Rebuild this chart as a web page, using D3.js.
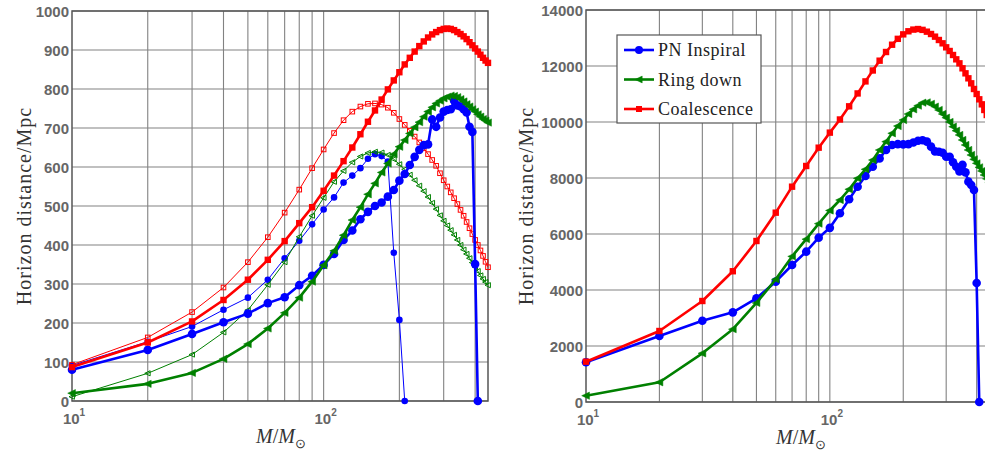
<!DOCTYPE html>
<html>
<head>
<meta charset="utf-8">
<script src="https://cdn.jsdelivr.net/npm/d3@7"></script>
<style>
  body { margin: 0; background: #fff; }
  svg { display: block; }
</style>
</head>
<body>
<div id="chart"></div>
<script>
// masses in solar units, 10 .. 450
const mass = [10, 20, 30, 40, 50, 60, 70, 80, 90, 100,
  110, 120, 130, 140, 150, 160, 170, 180, 190, 200,
  210, 220, 230, 240, 250, 260, 270, 280, 290, 300,
  310, 320, 330, 340, 350, 360, 370, 380, 390, 400,
  410, 420, 430, 440, 450];

// left panel, thin lines (first set)
const leftPNThin = [91, 152, 191, 234, 265, 311, 366, 411, 453, 491,
  522, 560, 578, 597, 621, 633, 628, 614, 380, 208, 0];
const leftRingThin = [11, 71, 119, 176, 233, 298, 356, 421, 475, 521,
  562, 590, 612, 627, 636, 639, 637, 631, 620, 607,
  594, 580, 566, 552, 538, 523, 508, 492, 476, 462,
  450, 438, 426, 413, 400, 388, 377, 366, 355, 344,
  333, 322, 313, 305, 297];
const leftCoalThin = [93, 163, 228, 291, 356, 420, 483, 542, 597, 645,
  687, 720, 742, 755, 762, 763, 760, 752, 739, 723,
  708, 693, 678, 663, 648, 633, 618, 603, 584, 566,
  550, 535, 520, 505, 490, 475, 459, 443, 428, 413,
  400, 386, 372, 357, 343];

// left panel, thick lines (second set)
const leftPNThick = [80, 131, 172, 202, 224, 251, 266, 297, 321, 349,
  377, 413, 437, 466, 485, 500, 509, 524, 541, 565,
  582, 605, 626, 644, 656, 658, 722, 703, 727, 742,
  746, 748, 770, 758, 755, 748, 740, 703, 690, 351, 0];
const leftRingThick = [20, 44, 72, 108, 146, 186, 226, 265, 306, 348,
  385, 425, 464, 497, 530, 558, 586, 609, 633, 652,
  669, 686, 702, 715, 729, 742, 753, 763, 770, 776,
  780, 783, 782, 779, 774, 768, 761, 755, 748, 742,
  735, 729, 723, 719, 714];
const leftCoalThick = [87, 150, 204, 259, 311, 362, 410, 456, 497, 539,
  578, 615, 650, 684, 716, 745, 773, 799, 822, 843,
  863, 880, 896, 910, 922, 932, 940, 946, 951, 954,
  955, 954, 951, 946, 941, 935, 928, 920, 912, 904,
  896, 888, 880, 873, 867];

// right panel
const rightPN = [1420, 2357, 2900, 3202, 3702, 4298, 4893, 5369, 5869, 6220,
  6740, 7240, 7690, 8070, 8400, 8700, 9000, 9180, 9210, 9200,
  9210, 9270, 9330, 9350, 9300, 9120, 8950, 8940, 8900, 8760,
  8760, 8560, 8400, 8230, 8470, 8200, 7870, 7750, 7570, 4250, 0];
const rightRing = [225, 704, 1738, 2600, 3540, 4380, 5200, 5815, 6370, 6840,
  7214, 7595, 7988, 8310, 8643, 9000, 9298, 9595, 9857, 10071,
  10286, 10452, 10583, 10690, 10700, 10650, 10550, 10429, 10286, 10155,
  10000, 9833, 9690, 9536, 9357, 9179, 9000, 8821, 8667, 8524,
  8381, 8250, 8107, 7970, 7840];
const rightCoal = [1440, 2536, 3607, 4670, 5750, 6762, 7690, 8429, 9083, 9620,
  10090, 10560, 11020, 11450, 11840, 12190, 12500, 12760, 12970, 13130,
  13240, 13300, 13320, 13290, 13226, 13143, 13048, 12929, 12810, 12667,
  12536, 12393, 12238, 12095, 11917, 11738, 11560, 11381, 11179, 11000,
  10810, 10631, 10429, 10250, 10070];

const leftYTicks = [0, 100, 200, 300, 400, 500, 600, 700, 800, 900, 1000];
const rightYTicks = [0, 2000, 4000, 6000, 8000, 10000, 12000, 14000];
const xGrid = [20, 30, 40, 50, 60, 70, 80, 90, 100, 200, 300, 400, 500];
const xLabelTicks = [{ v: 10, exp: "1" }, { v: 100, exp: "2" }];
const legendNames = ["PN Inspiral", "Ring down", "Coalescence"];

const BLUE = "#0000ff", GREEN = "#008000", RED = "#ff0000";
const GRID = "#828282", BOX = "#555555", TICK = "#666666";

const svg = d3.select("#chart").append("svg")
  .attr("width", 985).attr("height", 453)
  .style("background", "#fff");

function trianglePath(s) {
  // left pointing triangle
  return `M${-s},0L${s * 0.8},${-s * 0.85}L${s * 0.8},${s * 0.85}Z`;
}

function drawMarkers(g, pts, marker, color, size, thin) {
  if (marker === "circle") {
    g.selectAll(null).data(pts).join("circle")
      .attr("cx", (d) => d[0]).attr("cy", (d) => d[1])
      .attr("r", size).attr("fill", color);
  } else if (marker === "square") {
    g.selectAll(null).data(pts).join("rect")
      .attr("x", (d) => d[0] - size).attr("y", (d) => d[1] - size)
      .attr("width", size * 2).attr("height", size * 2)
      .attr("fill", thin ? "none" : color)
      .attr("stroke", color).attr("stroke-width", thin ? 1 : 0);
  } else {
    g.selectAll(null).data(pts).join("path")
      .attr("transform", (d) => `translate(${d[0]},${d[1]})`)
      .attr("d", trianglePath(size))
      .attr("fill", thin ? "none" : color)
      .attr("stroke", color).attr("stroke-width", thin ? 1 : 0.5);
  }
}

function drawPanel(p) {
  const x = d3.scaleLog().domain(p.xDomain).range([p.left, p.right]);
  const y = d3.scaleLinear().domain(p.yDomain).range([p.bottom, p.top]);
  const g = svg.append("g");

  // grid
  g.append("g").selectAll("line").data(p.yTicks).join("line")
    .attr("x1", p.left).attr("x2", p.right)
    .attr("y1", (d) => y(d)).attr("y2", (d) => y(d))
    .attr("stroke", GRID).attr("stroke-width", 1.1);
  g.append("g").selectAll("line").data(xGrid.filter((d) => d < p.xDomain[1])).join("line")
    .attr("x1", (d) => x(d)).attr("x2", (d) => x(d))
    .attr("y1", p.top).attr("y2", p.bottom)
    .attr("stroke", GRID).attr("stroke-width", 1.1);

  // box
  g.append("rect")
    .attr("x", p.left).attr("y", p.top)
    .attr("width", p.right - p.left).attr("height", p.bottom - p.top)
    .attr("fill", "none").attr("stroke", BOX).attr("stroke-width", 1.5);

  // y tick labels
  g.append("g").selectAll("text").data(p.yTicks).join("text")
    .attr("x", p.left - 3).attr("y", (d) => y(d))
    .attr("text-anchor", "end").attr("dominant-baseline", "central")
    .attr("font-family", "Liberation Sans, Arial, sans-serif")
    .attr("font-weight", "bold").attr("font-size", 15)
    .attr("fill", TICK).text((d) => d);

  // x tick labels 10^n
  const xl = g.append("g").selectAll("text").data(xLabelTicks).join("text")
    .attr("x", (d) => x(d.v) + 2).attr("y", p.bottom + 23)
    .attr("text-anchor", "middle")
    .attr("font-family", "Liberation Sans, Arial, sans-serif")
    .attr("font-weight", "bold").attr("font-size", 15)
    .attr("fill", TICK);
  xl.append("tspan").text("10");
  xl.append("tspan").attr("dy", -8).attr("font-size", 10).text((d) => d.exp);

  // x axis label
  const lab = g.append("text")
    .attr("x", p.xLabelX).attr("y", p.bottom + 42)
    .attr("text-anchor", "middle")
    .attr("font-family", "Liberation Serif, Times New Roman, serif")
    .attr("font-size", 20).attr("fill", "#333");
  lab.append("tspan").attr("font-style", "italic").text("M");
  lab.append("tspan").text("/");
  lab.append("tspan").attr("font-style", "italic").text("M");
  lab.append("tspan").attr("dy", 5).attr("font-size", 13).text("\u2299");

  // y axis label
  g.append("text")
    .attr("transform", `translate(${p.yLabelX},${(p.top + p.bottom) / 2}) rotate(-90)`)
    .attr("text-anchor", "middle")
    .attr("font-family", "Liberation Serif, Times New Roman, serif")
    .attr("font-size", 20).attr("letter-spacing", 1).attr("fill", "#333")
    .text("Horizon distance/Mpc");

  // series
  const line = d3.line().x((d) => d[0]).y((d) => d[1]);
  p.series.forEach((s) => {
    const pts = s.values.map((v, i) => [x(mass[i]), y(v)]);
    const sg = g.append("g");
    sg.append("path").attr("d", line(pts))
      .attr("fill", "none").attr("stroke", s.color)
      .attr("stroke-width", s.thin ? 1 : 2.6)
      .attr("stroke-linejoin", "round");
    drawMarkers(sg, pts, s.marker, s.color, s.size, s.thin);
  });

  return { x, y };
}

drawPanel({
  left: 72, right: 488, top: 11, bottom: 401,
  xDomain: [10, 450], yDomain: [0, 1000], yTicks: leftYTicks,
  xLabelX: 281, yLabelX: 31,
  series: [
    { values: leftPNThin, color: BLUE, marker: "circle", size: 3.3, thin: true },
    { values: leftRingThin, color: GREEN, marker: "tri", size: 3, thin: true },
    { values: leftCoalThin, color: RED, marker: "square", size: 2.3, thin: true },
    { values: leftPNThick, color: BLUE, marker: "circle", size: 4.3, thin: false },
    { values: leftRingThick, color: GREEN, marker: "tri", size: 4.3, thin: false },
    { values: leftCoalThick, color: RED, marker: "square", size: 3.2, thin: false }
  ]
});

drawPanel({
  left: 586, right: 1016, top: 10, bottom: 402,
  xDomain: [10, 580], yDomain: [0, 14000], yTicks: rightYTicks,
  xLabelX: 801, yLabelX: 533,
  series: [
    { values: rightPN, color: BLUE, marker: "circle", size: 4.3, thin: false },
    { values: rightRing, color: GREEN, marker: "tri", size: 4.3, thin: false },
    { values: rightCoal, color: RED, marker: "square", size: 3.2, thin: false }
  ]
});

// legend
const legend = svg.append("g");
legend.append("rect")
  .attr("x", 617).attr("y", 35).attr("width", 144).attr("height", 88)
  .attr("fill", "#fff").attr("stroke", BOX).attr("stroke-width", 1.2);
const legendStyles = [
  { color: BLUE, marker: "circle", size: 4 },
  { color: GREEN, marker: "tri", size: 4 },
  { color: RED, marker: "square", size: 3 }
];
legendNames.forEach((name, i) => {
  const ly = 50 + i * 29.5;
  const st = legendStyles[i];
  const lg = legend.append("g");
  lg.append("line").attr("x1", 624).attr("x2", 654).attr("y1", ly).attr("y2", ly)
    .attr("stroke", st.color).attr("stroke-width", 2.6);
  drawMarkers(lg, [[639, ly]], st.marker, st.color, st.size, false);
  lg.append("text").attr("x", 658).attr("y", ly).attr("dominant-baseline", "central")
    .attr("font-family", "Liberation Serif, Times New Roman, serif")
    .attr("font-size", 18).attr("letter-spacing", 0.5).attr("fill", "#222")
    .text(name);
});
</script>
</body>
</html>
